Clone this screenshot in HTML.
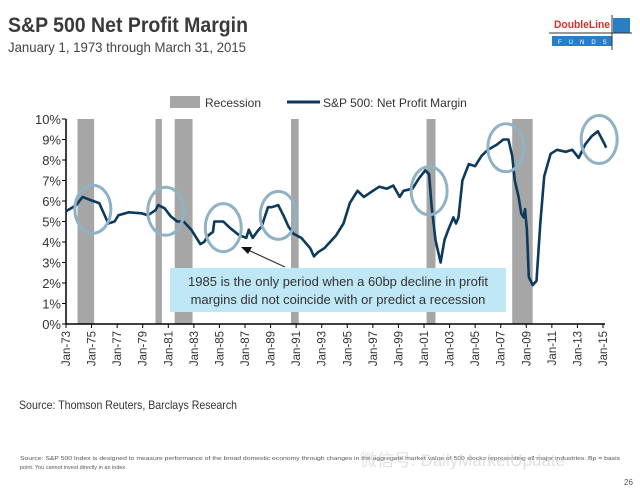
<!DOCTYPE html>
<html><head><meta charset="utf-8"><style>
body{margin:0;background:#fff;width:640px;height:491px;overflow:hidden;font-family:"Liberation Sans",sans-serif;}
svg{display:block}
</style></head><body>
<svg width="640" height="491" viewBox="0 0 640 491">
<text x="8" y="32" font-size="21" font-weight="bold" fill="#3a3a3a" textLength="240" lengthAdjust="spacingAndGlyphs">S&amp;P 500 Net Profit Margin</text>
<text x="8" y="52" font-size="14" fill="#444" textLength="238" lengthAdjust="spacingAndGlyphs">January 1, 1973 through March 31, 2015</text>
<g>
<text x="554" y="28" font-size="11" font-weight="bold" fill="#d9302f" textLength="56" lengthAdjust="spacingAndGlyphs">DoubleLine</text>
<rect x="613" y="18" width="17" height="15" fill="#2a7fc4"/>
<rect x="552" y="36" width="60" height="10" fill="#2a7fc4"/>
<text x="558" y="44" font-size="6" fill="#fff" letter-spacing="7">FUNDS</text>
<line x1="549" y1="33" x2="632" y2="33" stroke="#333" stroke-width="1"/>
<line x1="612" y1="15" x2="612" y2="50" stroke="#333" stroke-width="1"/>
</g>
<g id="plot"></g>
<text x="19" y="409" font-size="12" fill="#333" textLength="218" lengthAdjust="spacingAndGlyphs">Source: Thomson Reuters, Barclays Research</text>
<text x="20" y="460" font-size="5.5" fill="#555" textLength="600" lengthAdjust="spacingAndGlyphs">Source:  S&amp;P 500 Index is designed to measure performance of the broad domestic economy through changes in the aggregate market value of 500 stocks representing all major industries. Bp = basis</text>
<text x="20" y="469" font-size="5.5" fill="#555">point. You cannot invest directly in an index.</text>
<text x="360" y="466" font-size="17" fill="#ccc" opacity="0.6">微信号: DailyMarketUpdate</text>
<text x="624" y="485" font-size="8" fill="#555">26</text>
</svg>
<script>
const yTicks=[0,1,2,3,4,5,6,7,8,9,10];
const xTickYears=[1973,1975,1977,1979,1981,1983,1985,1987,1989,1991,1993,1995,1997,1999,2001,2003,2005,2007,2009,2011,2013,2015];
const recStart=[1973.9,1980.0,1981.5,1990.6,2001.2,2007.9];
const recEnd=[1975.2,1980.5,1982.9,1991.2,2001.9,2009.5];
const years=[1973,1973.8,1974.3,1974.9,1975.6,1976.1,1976.3,1976.8,1977.1,1977.9,1978.9,1979.4,1980,1980.2,1980.7,1981.2,1981.7,1982.2,1982.8,1983.5,1983.8,1984.1,1984.5,1984.6,1985.3,1985.8,1986.5,1987.1,1987.3,1987.6,1988,1988.3,1988.8,1989.1,1989.6,1990,1990.4,1990.8,1991.4,1992.1,1992.4,1992.7,1993.2,1994.1,1994.7,1995.2,1995.8,1996.3,1997,1997.5,1998.1,1998.6,1999.1,1999.4,2000.1,2000.6,2001.1,2001.4,2001.6,2001.9,2002.3,2002.6,2002.9,2003.3,2003.5,2003.7,2004,2004.5,2005,2005.5,2006,2006.7,2007.2,2007.6,2007.9,2008.1,2008.4,2008.6,2008.8,2008.9,2009.05,2009.2,2009.5,2009.8,2010.1,2010.4,2010.9,2011.4,2012.1,2012.6,2013.1,2013.6,2014.1,2014.6,2015.1,2015.25];
const margins=[5.5,5.8,6.2,6.05,5.9,5.2,4.9,5.0,5.3,5.45,5.4,5.3,5.55,5.8,5.65,5.25,5.0,5.0,4.6,3.9,4.0,4.3,4.5,5.0,5.0,4.7,4.35,4.2,4.6,4.2,4.55,4.75,5.7,5.7,5.8,5.3,4.75,4.4,4.2,3.7,3.3,3.5,3.7,4.3,4.9,5.9,6.5,6.2,6.5,6.7,6.6,6.75,6.2,6.5,6.6,7.1,7.5,7.3,5.7,4.1,3.0,4.1,4.6,5.2,4.9,5.2,7.0,7.8,7.7,8.2,8.5,8.75,9.0,9.0,8.2,7.0,6.2,5.4,5.2,5.6,4.6,2.3,1.9,2.1,4.9,7.2,8.3,8.5,8.4,8.5,8.1,8.75,9.15,9.4,8.8,8.6];
const circYears=[1975.1,1980.8,1985.3,1989.6,2001.4,2007.4,2014.7];
const circVals=[5.6,5.5,4.7,5.3,6.5,8.6,9.0];

const NS='http://www.w3.org/2000/svg';
const L=66,R=603,T=119,B=324;
const X=y=>L+(y-1973)*(R-L)/42;
const Y=v=>B-v*(B-T)/10;
const g=document.getElementById('plot');
function mk(tag,attrs,parent){const e=document.createElementNS(NS,tag);for(const k in attrs)e.setAttribute(k,attrs[k]);(parent||g).appendChild(e);return e;}

const lg=mk('g',{});


mk('rect',{x:170,y:96,width:30,height:12,fill:'#a6a6a6'},lg);
const t1=mk('text',{x:205,y:107,'font-size':12,fill:'#333'},lg);t1.textContent='Recession';
mk('line',{x1:287,y1:102,x2:320,y2:102,stroke:'#0d3a5c','stroke-width':3},lg);
const t2=mk('text',{x:323,y:107,'font-size':12,fill:'#333'},lg);t2.textContent='S&P 500: Net Profit Margin';

recStart.forEach((s,i)=>{
 const r=mk('rect',{x:X(s),y:T,width:X(recEnd[i])-X(s),height:B-T,fill:'#a6a6a6'});
 
 
});

yTicks.forEach(v=>{
 const t=mk('text',{x:L-5,y:Y(v)+5,'font-size':13,fill:'#333','text-anchor':'end'});
 
 
 t.textContent=v+'%';
 mk('line',{x1:L-4,y1:Y(v),x2:L,y2:Y(v),stroke:'#000','stroke-width':1});
});
const ya=mk('line',{x1:L,y1:T,x2:L,y2:B,stroke:'#000','stroke-width':1.5});


const xa=mk('line',{x1:L,y1:B,x2:R+2,y2:B,stroke:'#000','stroke-width':1.5});


xTickYears.forEach(yr=>{
 const x=X(yr);
 mk('line',{x1:x,y1:B,x2:x,y2:B+4,stroke:'#000','stroke-width':1});
 const t=mk('text',{x:0,y:0,'font-size':11.5,fill:'#333','text-anchor':'end',transform:`translate(${x+4},${B+7}) rotate(-90)`});
 
 
 t.textContent='Jan-'+String(yr).slice(2);
});

const box=mk('rect',{x:170,y:268,width:336,height:44,fill:'#bfe7f5'});


const a1=mk('text',{x:338,y:286,'font-size':13,fill:'#333','text-anchor':'middle'});a1.textContent='1985 is the only period when  a 60bp decline in profit';


const a2=mk('text',{x:338,y:304,'font-size':13,fill:'#333','text-anchor':'middle'});a2.textContent='margins did not coincide with or predict a recession';


const ar=mk('line',{x1:285,y1:267,x2:248,y2:250,stroke:'#333','stroke-width':1.2});


mk('polygon',{points:'241,247 252,247 248,254',fill:'#111'});

const pts=years.map((y,i)=>X(y).toFixed(1)+','+Y(margins[i]).toFixed(1)).join(' ');
const pl=mk('polyline',{points:pts,fill:'none',stroke:'#0d3a5c','stroke-width':2.6,'stroke-linejoin':'round'});



circYears.forEach((yr,i)=>{
 const e=mk('ellipse',{cx:X(yr),cy:Y(circVals[i]),rx:18,ry:24,fill:'none',stroke:'#8fb3c4','stroke-width':3});
 
 
});
</script>
</body></html>
